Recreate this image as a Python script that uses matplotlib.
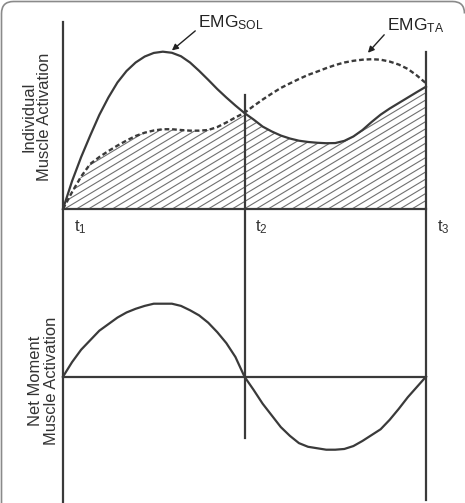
import numpy as np
import matplotlib
matplotlib.use("Agg")
import matplotlib.pyplot as plt
from matplotlib.collections import LineCollection
from matplotlib.patches import PathPatch
from matplotlib.path import Path
import matplotlib.transforms as mtransforms

plt.rcParams['font.family'] = ['Liberation Sans', 'DejaVu Sans']
plt.rcParams['mathtext.fontset'] = 'custom'
plt.rcParams['mathtext.rm'] = 'Liberation Sans'
plt.rcParams['mathtext.it'] = 'Liberation Sans'

# time axis: t1 = 0, t2 = 1, t3 = 2
t_marks = [0, 1, 2]
t_labels = [r'$\mathrm{t}_1$', r'$\mathrm{t}_2$', r'$\mathrm{t}_3$']

x = [0.00, 0.05, 0.10, 0.15, 0.20, 0.25, 0.30, 0.35, 0.40, 0.45,
     0.50, 0.55, 0.60, 0.65, 0.70, 0.75, 0.80, 0.85, 0.90, 0.95,
     1.00, 1.05, 1.10, 1.15, 1.20, 1.25, 1.30, 1.35, 1.40, 1.45,
     1.50, 1.55, 1.60, 1.65, 1.70, 1.75, 1.80, 1.85, 1.90, 1.95, 2.00]

# individual activations (arbitrary units, peak of SOL ~ 100)
emg_sol = [0, 17.8, 33.1, 46.8, 59.9, 71.0, 80.6, 87.9, 93.3, 97.1,
           99.4, 100.2, 99.5, 97.3, 93.3, 88.0, 82.3, 76.4, 71.0, 65.9,
           61.1, 57.0, 52.5, 49.4, 46.8, 44.9, 43.5, 42.7, 42.2, 41.9,
           42.0, 43.4, 46.2, 50.3, 55.4, 60.1, 64.0, 67.5, 71.0, 74.5, 77.9]
emg_ta = [0, 10.8, 20.7, 28.7, 33.1, 36.9, 40.4, 43.6, 46.5, 48.6,
          50.0, 50.8, 50.8, 50.3, 49.9, 49.9, 50.3, 52.2, 55.1, 58.3,
          61.3, 65.6, 69.7, 73.5, 77.1, 80.0, 82.8, 85.4, 87.5, 89.7,
          91.7, 93.3, 94.4, 95.1, 95.4, 95.1, 93.9, 92.0, 89.2, 85.0, 80.1]

# net moment (normalised)
net_moment = [0, 0.20, 0.37, 0.50, 0.63, 0.72, 0.81, 0.88, 0.93, 0.97,
              1.00, 1.00, 1.00, 0.97, 0.91, 0.84, 0.74, 0.61, 0.46, 0.27,
              0, -0.18, -0.37, -0.53, -0.69, -0.81, -0.91, -0.96, -0.98, -1.00,
              -1.00, -0.99, -0.95, -0.88, -0.80, -0.72, -0.59, -0.44, -0.28, -0.14, 0]

W, H = 465, 503
LC = '#3a3a3a'

fig = plt.figure(figsize=(W / 100, H / 100), dpi=100)
fig.patch.set_facecolor('white')

split = 260  # px from top where the two panels meet
ax_top = fig.add_axes([0, 1 - split / H, 1, split / H])
ax_bot = fig.add_axes([0, 0, 1, 1 - split / H])
xlim = (-63 / 181.5, (W - 63) / 181.5)
for ax in (ax_top, ax_bot):
    ax.set_xlim(*xlim)
    ax.axis('off')
    ax.patch.set_alpha(0)
ax_top.set_ylim(-(split - 209) / 1.57, 209 / 1.57)
ax_bot.set_ylim(-(H - 376.7) / 73, (376.7 - split) / 73)

# ---- top panel: individual activations with co-contraction hatch
lower = np.minimum(emg_sol, emg_ta)
poly = ax_top.fill_between(x, 0, lower, facecolor='none', edgecolor='none')
segs = [[(c, 0), (c + 2.5, 2.5 * 69.4)] for c in np.arange(-2.5, 2.1, 0.066)]
hatch = LineCollection(segs, colors='#707070', linewidths=0.8)
ax_top.add_collection(hatch)
hatch.set_clip_path(poly.get_paths()[0], ax_top.transData)

ax_top.plot(x, emg_ta, color=LC, lw=1.7, dashes=(2.0, 1.2))
ax_top.plot(x, emg_sol, color=LC, lw=1.6)
ax_top.plot([t_marks[0], t_marks[-1]], [0, 0], color=LC, lw=1.6)

for tm, tl in zip(t_marks, t_labels):
    ax_top.text(tm + 0.06, -11.5, tl, fontsize=12, ha='left', va='center', color='#333333')

ax_top.annotate(r'EMG$_{\mathrm{SOL}}$', xy=(0.6, 101), xytext=(0.744, 118.5),
                fontsize=12.5, ha='left', va='center', color='#222222',
                arrowprops=dict(arrowstyle='-|>', color='#222222', lw=1.0,
                                mutation_scale=9, shrinkA=0, shrinkB=0,
                                relpos=(0, 0.2)))
ax_top.annotate(r'EMG$_{\mathrm{TA}}$', xy=(1.68, 99.5), xytext=(1.785, 116.5),
                fontsize=12.5, ha='left', va='center', color='#222222',
                arrowprops=dict(arrowstyle='-|>', color='#222222', lw=1.0,
                                mutation_scale=9, shrinkA=0, shrinkB=0,
                                relpos=(0, 0.2)))

ax_top.text(-0.146, 58.6, 'Individual\nMuscle Activation', rotation=90,
            fontsize=11.9, ha='center', va='center', multialignment='center',
            linespacing=1.05, color='#333333')

# ---- bottom panel: net moment
ax_bot.plot([t_marks[0], t_marks[-1]], [0, 0], color=LC, lw=1.6)
ax_bot.plot(x, net_moment, color=LC, lw=1.6)
ax_bot.text(-0.107, -0.06, 'Net Moment\nMuscle Activation', rotation=90,
            fontsize=11.9, ha='center', va='center', multialignment='center',
            linespacing=1.05, color='#333333')

# ---- vertical time markers spanning both panels
blend = mtransforms.blended_transform_factory(ax_top.transData, fig.transFigure)
spans = {0: (22, H), 1: (95, 438), 2: (52, 500)}
for tm in t_marks:
    y0, y1 = spans[tm]
    fig.add_artist(plt.Line2D([tm, tm], [1 - y0 / H, 1 - y1 / H], transform=blend,
                              color=LC, lw=1.6))

# ---- outer frame: left + top edges with rounded corners (rest is cropped)
r = 12
top, left, right = H - 1.5, 1.5, W - 0.5
verts = [(left, -5), (left, top - r), (left, top), (left + r, top),
         (right - r, top), (right, top), (right, top - r)]
codes = [Path.MOVETO, Path.LINETO, Path.CURVE3, Path.CURVE3,
         Path.LINETO, Path.CURVE3, Path.CURVE3]
frame = PathPatch(Path(verts, codes), transform=mtransforms.IdentityTransform(),
                  facecolor='none', edgecolor='#8a8a8a', lw=1.2)
fig.add_artist(frame)

fig.savefig('out.png', dpi=100)
